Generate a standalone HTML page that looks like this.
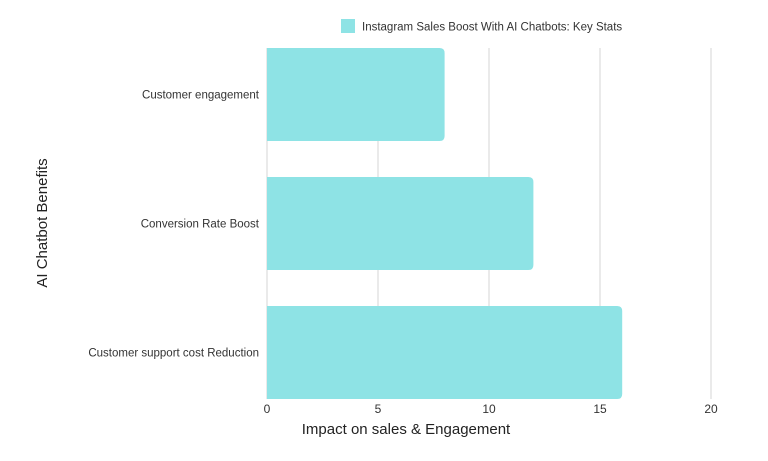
<!DOCTYPE html>
<html><head><meta charset="utf-8"><style>
body{margin:0;background:#fff;}
svg{display:block;font-family:"Liberation Sans",sans-serif;}
</style></head><body>
<svg id="c" width="768" height="461">
<g id="grid"></g><g id="bars"></g><g id="ticks"></g><g id="cats"></g>
<rect x="341" y="19" width="14" height="14" fill="#8ee3e5"/>
<text x="362" y="30.5" font-size="11.5" fill="#333">Instagram Sales Boost With AI Chatbots: Key Stats</text>
<text x="406" y="434" font-size="15" fill="#222" text-anchor="middle">Impact on sales &amp; Engagement</text>
<text transform="translate(47,223) rotate(-90)" font-size="15" fill="#222" text-anchor="middle">AI Chatbot Benefits</text>
</svg>
<script>
const categories=["Customer engagement","Conversion Rate Boost","Customer support cost Reduction"];
const values=[8,12,16];
const tickLabels=[0,5,10,15,20];
const NS="http://www.w3.org/2000/svg";
const x0=267,x1=711,xmax=20,yTop=48,yBot=399;
const xs=v=>x0+(v/xmax)*(x1-x0);
const step=129, barH=93;
function mk(t,a,p){const e=document.createElementNS(NS,t);for(const k in a)e.setAttribute(k,a[k]);document.getElementById(p).appendChild(e);return e;}
tickLabels.forEach(t=>{
 const l=mk("line",{x1:xs(t),x2:xs(t),y1:yTop,y2:yBot,stroke:"#d6d6d6","stroke-width":1},"grid");
 
 
 const tx=mk("text",{x:xs(t),y:413,"font-size":12,fill:"#333","text-anchor":"middle"},"ticks");
 tx.textContent=t;
 
 
});
categories.forEach((c,i)=>{
 const yy=yTop+i*step, h=barH;
 const w=xs(values[i])-x0;
 const p=mk("path",{d:`M${x0},${yy}H${x0+w-5}Q${x0+w},${yy} ${x0+w},${yy+5}V${yy+h-5}Q${x0+w},${yy+h} ${x0+w-5},${yy+h}H${x0}Z`,fill:"#8ee3e5"},"bars");
 
 
 const t=mk("text",{x:259,y:yy+h/2+4,"font-size":11.5,fill:"#333","text-anchor":"end"},"cats");
 t.textContent=c;
 
 
});
</script>
</body></html>
